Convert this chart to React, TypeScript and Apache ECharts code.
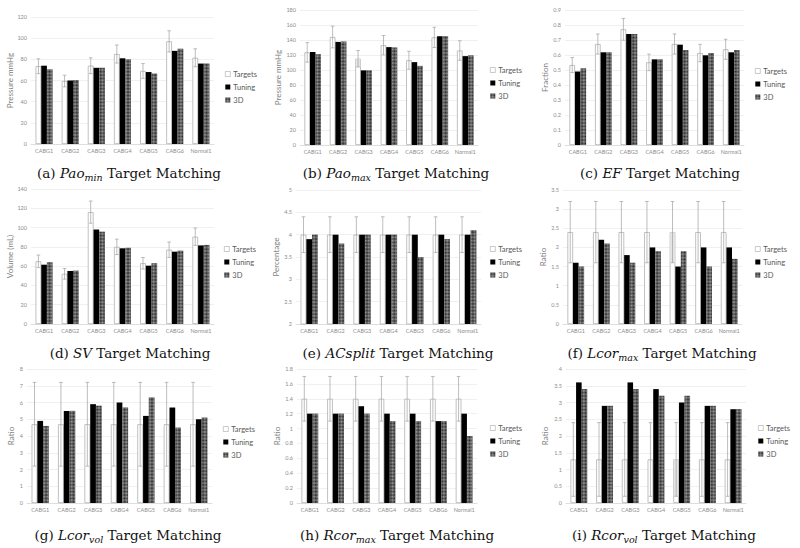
import React, { useEffect, useRef } from 'react';
import * as echarts from 'echarts';

const categories = ['CABG1', 'CABG2', 'CABG3', 'CABG4', 'CABG5', 'CABG6', 'Normal1'];
const seriesNames = ['Targets', 'Tuning', '3D'];

// (a) Pao_min
const paoMinTargets = [73.5, 59.5, 74, 85, 69, 97, 81.5];
const paoMinErr = [7, 5.5, 7.5, 8.5, 7, 10, 8.5];
const paoMinTuning = [74, 60, 72, 81, 68, 88, 76];
const paoMin3D = [70.5, 60.5, 72, 80, 66.5, 90, 76];
// (b) Pao_max
const paoMaxTargets = [123.5, 144, 115, 133, 113, 143.5, 126];
const paoMaxErr = [13, 14.5, 11, 13, 12, 13.5, 13];
const paoMaxTuning = [124, 137.5, 99.5, 130.5, 110.5, 145, 118.5];
const paoMax3D = [121, 138, 99.5, 130, 105.5, 145, 119.5];
// (c) EF
const efTargets = [0.533, 0.673, 0.771, 0.551, 0.673, 0.613, 0.638];
const efErr = [0.05, 0.067, 0.073, 0.055, 0.067, 0.058, 0.067];
const efTuning = [0.49, 0.618, 0.74, 0.571, 0.669, 0.598, 0.618];
const ef3D = [0.511, 0.618, 0.74, 0.571, 0.633, 0.613, 0.633];
// (d) SV
const svTargets = [65, 52, 116, 80, 63, 77, 90.5];
const svErr = [6.5, 5.5, 11.5, 8, 6, 8, 9];
const svTuning = [61.5, 55, 98, 78.5, 60.5, 75, 81.5];
const sv3D = [64, 55.3, 95.7, 79, 63, 76, 82];
// (e) ACsplit
const acTargets = [4, 4, 4, 4, 4, 4, 4];
const acErr = [0.4, 0.4, 0.4, 0.4, 0.4, 0.4, 0.4];
const acTuning = [3.9, 4, 4, 4, 4, 4, 4];
const ac3D = [4, 3.8, 4, 4, 3.5, 3.9, 4.1];
// (f) Lcor_max
const lcorMaxTargets = [2.4, 2.4, 2.4, 2.4, 2.4, 2.4, 2.4];
const lcorMaxErr = [0.8, 0.8, 0.8, 0.8, 0.8, 0.8, 0.8];
const lcorMaxTuning = [1.6, 2.2, 1.8, 2.0, 1.5, 2.0, 2.0];
const lcorMax3D = [1.5, 2.1, 1.6, 1.9, 1.9, 1.5, 1.7];
// (g) Lcor_vol
const lcorVolTargets = [4.7, 4.7, 4.7, 4.7, 4.7, 4.7, 4.7];
const lcorVolErr = [2.5, 2.5, 2.5, 2.5, 2.5, 2.5, 2.5];
const lcorVolTuning = [4.9, 5.5, 5.9, 6.0, 5.2, 5.7, 5.0];
const lcorVol3D = [4.6, 5.5, 5.8, 5.7, 6.3, 4.5, 5.1];
// (h) Rcor_max
const rcorMaxTargets = [1.4, 1.4, 1.4, 1.4, 1.4, 1.4, 1.4];
const rcorMaxErr = [0.3, 0.3, 0.3, 0.3, 0.3, 0.3, 0.3];
const rcorMaxTuning = [1.2, 1.2, 1.3, 1.2, 1.2, 1.1, 1.2];
const rcorMax3D = [1.2, 1.2, 1.2, 1.1, 1.1, 1.1, 0.9];
// (i) Rcor_vol
const rcorVolTargets = [1.3, 1.3, 1.3, 1.3, 1.3, 1.3, 1.3];
const rcorVolErr = [1.1, 1.1, 1.1, 1.1, 1.1, 1.1, 1.1];
const rcorVolTuning = [3.6, 2.9, 3.6, 3.4, 3.0, 2.9, 2.8];
const rcorVol3D = [3.4, 2.9, 3.4, 3.2, 3.2, 2.9, 2.8];

type Panel = {
  letter: string; sym: string; sub: string; yName: string;
  min: number; max: number; interval: number;
  targets: number[]; err: number[]; tuning: number[]; d3: number[];
  shade: number;
  grid: { left: number; top: number; width: number; height: number };
  nameGap: number;
  legend: { left: number; top: number };
  caption: { x: number; y: number };
};

const panels: Panel[] = [
  { letter: 'a', sym: 'Pao', sub: 'min', yName: 'Pressure mmHg', min: 0, max: 120, interval: 20,
    targets: paoMinTargets, err: paoMinErr, tuning: paoMinTuning, d3: paoMin3D, shade: -1,
    grid: { left: 31, top: 17, width: 183, height: 127 }, nameGap: 15,
    legend: { left: 225, top: 70 }, caption: { x: 129, y: 173 } },
  { letter: 'b', sym: 'Pao', sub: 'max', yName: 'Pressure mmHg', min: 0, max: 180, interval: 20,
    targets: paoMaxTargets, err: paoMaxErr, tuning: paoMaxTuning, d3: paoMax3D, shade: 2,
    grid: { left: 300, top: 10, width: 178, height: 135 }, nameGap: 18,
    legend: { left: 490, top: 66 }, caption: { x: 396, y: 173 } },
  { letter: 'c', sym: 'EF', sub: '', yName: 'Fraction', min: 0, max: 0.9, interval: 0.1,
    targets: efTargets, err: efErr, tuning: efTuning, d3: ef3D, shade: -1,
    grid: { left: 565, top: 10, width: 179, height: 135 }, nameGap: 16,
    legend: { left: 755, top: 67 }, caption: { x: 660, y: 173 } },
  { letter: 'd', sym: 'SV', sub: '', yName: 'Volume (mL)', min: 0, max: 140, interval: 20,
    targets: svTargets, err: svErr, tuning: svTuning, d3: sv3D, shade: -1,
    grid: { left: 31, top: 189, width: 183, height: 135 }, nameGap: 15,
    legend: { left: 224, top: 245 }, caption: { x: 130, y: 353 } },
  { letter: 'e', sym: 'ACsplit', sub: '', yName: 'Percentage', min: 2, max: 5, interval: 0.5,
    targets: acTargets, err: acErr, tuning: acTuning, d3: ac3D, shade: -1,
    grid: { left: 296, top: 190, width: 185, height: 134 }, nameGap: 13,
    legend: { left: 490, top: 245 }, caption: { x: 398, y: 353 } },
  { letter: 'f', sym: 'Lcor', sub: 'max', yName: 'Ratio', min: 0, max: 3.5, interval: 0.5,
    targets: lcorMaxTargets, err: lcorMaxErr, tuning: lcorMaxTuning, d3: lcorMax3D, shade: 4,
    grid: { left: 563, top: 190, width: 179, height: 134 }, nameGap: 14,
    legend: { left: 755, top: 245 }, caption: { x: 662, y: 353 } },
  { letter: 'g', sym: 'Lcor', sub: 'vol', yName: 'Ratio', min: 0, max: 8, interval: 1,
    targets: lcorVolTargets, err: lcorVolErr, tuning: lcorVolTuning, d3: lcorVol3D, shade: -1,
    grid: { left: 27, top: 369, width: 185, height: 134 }, nameGap: 12,
    legend: { left: 223, top: 425 }, caption: { x: 128, y: 535 } },
  { letter: 'h', sym: 'Rcor', sub: 'max', yName: 'Ratio', min: 0, max: 1.8, interval: 0.2,
    targets: rcorMaxTargets, err: rcorMaxErr, tuning: rcorMaxTuning, d3: rcorMax3D, shade: -1,
    grid: { left: 297, top: 369, width: 180, height: 134 }, nameGap: 15,
    legend: { left: 490, top: 424 }, caption: { x: 397, y: 535 } },
  { letter: 'i', sym: 'Rcor', sub: 'vol', yName: 'Ratio', min: 0, max: 4, interval: 0.5,
    targets: rcorVolTargets, err: rcorVolErr, tuning: rcorVolTuning, d3: rcorVol3D, shade: 4,
    grid: { left: 566, top: 369, width: 180, height: 134 }, nameGap: 17,
    legend: { left: 758, top: 424 }, caption: { x: 664, y: 535 } },
];

const SANS = 'Lato, "Open Sans", sans-serif';
const SERIF = '"DejaVu Serif", "Liberation Serif", serif';
const BAR_FRACTION = 0.65;

const decal3D = {
  symbol: 'rect',
  symbolSize: 1,
  dashArrayX: [[1, 1], [0, 1, 1, 0]],
  dashArrayY: [1, 0],
  rotation: Math.PI / 4,
  color: 'rgba(255,255,255,0.6)',
};

function buildOption() {
  const grid: any[] = [];
  const xAxis: any[] = [];
  const yAxis: any[] = [];
  const series: any[] = [];
  const legend: any[] = [];
  const graphic: any[] = [];

  panels.forEach((p, idx) => {
    grid.push({ ...p.grid, containLabel: false });
    xAxis.push({
      type: 'category', gridIndex: idx, data: categories,
      axisLine: { lineStyle: { color: '#d9d9d9', width: 0.8 } },
      axisTick: { show: false },
      axisLabel: { interval: 0, fontSize: 5.5, color: '#8c8c8c', fontFamily: SANS, margin: 4 },
    });
    yAxis.push({
      type: 'value', gridIndex: idx, min: p.min, max: p.max, interval: p.interval,
      name: p.yName, nameLocation: 'middle', nameGap: p.nameGap,
      nameTextStyle: { fontSize: 8, color: '#7f7f7f', fontFamily: SANS },
      axisLine: { show: false }, axisTick: { show: false },
      axisLabel: { fontSize: 5.5, color: '#8c8c8c', fontFamily: SANS, margin: 4 },
      splitLine: { lineStyle: { color: '#e6e6e6', width: 0.6 } },
    });
    series.push({
      type: 'bar', name: 'Targets', xAxisIndex: idx, yAxisIndex: idx, data: p.targets,
      barGap: '0%', barCategoryGap: '35%',
      itemStyle: { color: '#ffffff', borderColor: '#a6a6a6', borderWidth: 0.7 },
    });
    series.push({
      type: 'bar', name: 'Tuning', xAxisIndex: idx, yAxisIndex: idx, data: p.tuning,
      barGap: '0%', barCategoryGap: '35%',
      itemStyle: { color: '#000000' },
    });
    series.push({
      type: 'bar', name: '3D', xAxisIndex: idx, yAxisIndex: idx, data: p.d3,
      barGap: '0%', barCategoryGap: '35%',
      itemStyle: { color: '#1e1e1e', decal: decal3D },
    });
    const shade = p.shade;
    series.push({
      type: 'custom', name: 'err' + idx, xAxisIndex: idx, yAxisIndex: idx, z: 5,
      data: p.targets.map((v, i) => [i, v, p.err[i]]),
      encode: { x: 0, y: 1 },
      renderItem: (params: any, api: any) => {
        const i = api.value(0);
        const v = api.value(1);
        const e = api.value(2);
        const c = api.coord([i, v]);
        const w = api.size([1, 0])[0];
        const bw = (w * BAR_FRACTION) / 3;
        const x = c[0] - bw;
        const hi = api.coord([i, v + e]);
        const lo = api.coord([i, v - e]);
        const cap = 1.8;
        const st = { stroke: '#a0a0a0', lineWidth: 0.7 };
        const children: any[] = [];
        if (i === shade) {
          children.push({
            type: 'rect',
            shape: { x: x - bw / 2 + 0.5, y: c[1] + 0.3, width: bw - 1, height: lo[1] - c[1] - 0.3 },
            style: { fill: '#e4e4e4' },
          });
        }
        children.push(
          { type: 'line', shape: { x1: x, y1: hi[1], x2: x, y2: lo[1] }, style: st },
          { type: 'line', shape: { x1: x - cap, y1: hi[1], x2: x + cap, y2: hi[1] }, style: st },
          { type: 'line', shape: { x1: x - cap, y1: lo[1], x2: x + cap, y2: lo[1] }, style: st },
        );
        return { type: 'group', children };
      },
    });
    legend.push({
      data: seriesNames, orient: 'vertical', left: p.legend.left, top: p.legend.top,
      itemWidth: 5, itemHeight: 5, itemGap: 5, padding: 0, icon: 'rect', selectedMode: false,
      itemStyle: { borderWidth: 0.6 },
      textStyle: { fontSize: 7.5, color: '#595959', fontFamily: SANS, padding: [0, 0, 0, -2] },
    });
    const subPart = p.sub ? `{s|${p.sub}}` : '';
    graphic.push({
      type: 'text', x: p.caption.x, y: p.caption.y,
      style: {
        text: `{n|(${p.letter}) }{i|${p.sym}}${subPart}{n| Target Matching}`,
        align: 'center', verticalAlign: 'middle',
        rich: {
          n: { fontFamily: SERIF, fontSize: 13.5, lineHeight: 18, fill: '#111' },
          i: { fontFamily: SERIF, fontStyle: 'italic', fontSize: 13.5, lineHeight: 18, fill: '#111' },
          s: { fontFamily: SERIF, fontStyle: 'italic', fontSize: 9.5, lineHeight: 10, verticalAlign: 'bottom', fill: '#111' },
        },
      },
    });
  });

  return {
    animation: false,
    backgroundColor: '#ffffff',
    grid, xAxis, yAxis, series, legend, graphic,
  };
}

export default function App() {
  const ref = useRef<HTMLDivElement>(null);
  useEffect(() => {
    document.body.style.margin = '0';
    if (!ref.current) return;
    const chart = echarts.init(ref.current, undefined, { renderer: 'svg' });
    chart.setOption(buildOption() as any);
    return () => chart.dispose();
  }, []);
  return <div ref={ref} style={{ width: 800, height: 548 }} />;
}
